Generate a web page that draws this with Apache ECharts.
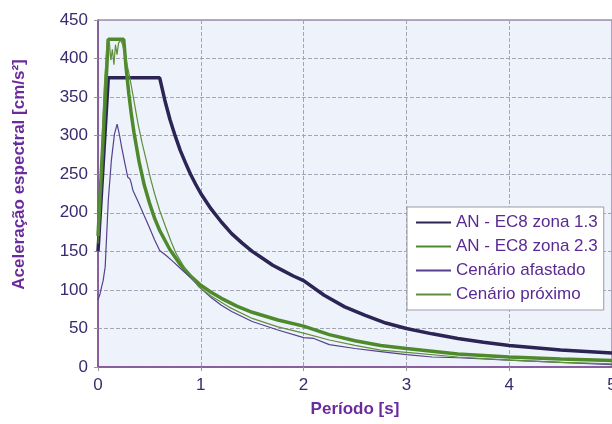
<!DOCTYPE html>
<html>
<head>
<meta charset="utf-8">
<script src="https://cdn.jsdelivr.net/npm/echarts@6/dist/echarts.min.js"></script>
<style>
html,body{margin:0;padding:0;background:#fff;}
#c{width:612px;height:424px;}
</style>
</head>
<body>
<div id="c"></div>
<script>
// ---- data ----
const seriesNames = ['AN - EC8 zona 1.3', 'AN - EC8 zona 2.3', 'Cenário afastado', 'Cenário próximo'];
const xTicks = [0, 1, 2, 3, 4, 5];
const yTicks = [0, 50, 100, 150, 200, 250, 300, 350, 400, 450];

const tZona13 = [0, 0.1, 0.6, 0.65, 0.7, 0.75, 0.8, 0.85, 0.9, 0.95, 1.0, 1.1, 1.2, 1.3, 1.4, 1.5, 1.6, 1.7, 1.8, 1.9, 2.0, 2.2, 2.4, 2.6, 2.8, 3.0, 3.25, 3.5, 3.75, 4.0, 4.25, 4.5, 4.75, 5.0];
const aZona13 = [150, 375, 375, 346, 321, 300, 281, 265, 250, 237, 225, 205, 188, 173, 161, 150, 141, 132, 125, 118, 112, 93, 78, 67, 57, 50, 43, 37, 32, 28, 25, 22, 20, 18];

const tZona23 = [0, 0.1, 0.25, 0.275, 0.3, 0.325, 0.35, 0.4, 0.45, 0.5, 0.55, 0.6, 0.7, 0.8, 0.9, 1.0, 1.1, 1.2, 1.35, 1.5, 1.75, 2.0, 2.25, 2.5, 2.75, 3.0, 3.5, 4.0, 4.5, 5.0];
const aZona23 = [170, 425, 425, 386, 354, 327, 304, 266, 236, 213, 193, 177, 152, 133, 118, 106, 97, 89, 79, 71, 61, 53, 42, 34, 28, 24, 17, 13, 10.5, 8.5];

const tAfastado = [0, 0.02, 0.035, 0.05, 0.07, 0.1, 0.13, 0.16, 0.186, 0.21, 0.23, 0.26, 0.29, 0.31, 0.32, 0.34, 0.385, 0.45, 0.5, 0.55, 0.6, 0.66, 0.72, 0.8, 0.9, 1.0, 1.1, 1.2, 1.3, 1.5, 1.75, 2.0, 2.1, 2.25, 2.5, 2.75, 3.0, 3.25, 3.5, 4.0, 4.5, 5.0];
const aAfastado = [87, 95, 104, 112, 130, 216, 268, 302, 315, 300, 285, 265, 246, 244, 240, 229, 216, 196, 181, 165, 151, 145, 138, 128, 116, 102, 90, 80, 72, 59, 48, 38, 37, 29, 24, 20, 16, 13, 12, 9, 6, 3];

const tProximo = [0, 0.03, 0.06, 0.09, 0.11, 0.125, 0.14, 0.155, 0.17, 0.185, 0.2, 0.22, 0.24, 0.27, 0.31, 0.35, 0.39, 0.43, 0.47, 0.51, 0.55, 0.6, 0.66, 0.71, 0.76, 0.85, 0.98, 1.1, 1.27, 1.5, 1.75, 2.0, 2.25, 2.5, 2.75, 3.0, 3.5, 4.0, 4.5, 5.0];
const aProximo = [160, 260, 360, 425, 422, 398, 412, 392, 418, 405, 420, 424, 418, 400, 375, 345, 315, 290, 268, 245, 225, 203, 181, 163, 147, 127, 104, 92, 78, 63, 52, 44, 35, 28, 22, 19, 13, 9, 6, 4];

// ---- chart ----
const pairs = (t, a) => t.map((x, i) => [x, a[i]]);
const FONT = '"Liberation Sans", Arial, sans-serif';
const tickColor = '#3a2a6e';
const titleColor = '#6a2c9c';
const frameColor = '#7b4a92';

const chart = echarts.init(document.getElementById('c'), null, {renderer: 'canvas'});
chart.setOption({
  animation: false,
  backgroundColor: '#ffffff',
  grid: {
    left: 98, top: 20, width: 514, height: 347,
    outerBoundsMode: 'none', containLabel: false,
    show: true, backgroundColor: '#eef2fa', borderColor: frameColor, borderWidth: 1
  },
  legend: {
    orient: 'vertical', left: 407, top: 207,
    padding: [7, 6, 7, 8],
    itemWidth: 35, itemHeight: 14, itemGap: 7,
    backgroundColor: '#ffffff', borderColor: '#9a9aa6', borderWidth: 1,
    itemStyle: {opacity: 0},
    textStyle: {fontFamily: FONT, fontSize: 17, color: '#5a2a92', lineHeight: 17},
    data: seriesNames
  },
  xAxis: {
    type: 'value', min: xTicks[0], max: xTicks[xTicks.length - 1], interval: 1,
    name: 'Período [s]', nameLocation: 'middle', nameGap: 34,
    nameTextStyle: {fontFamily: FONT, fontSize: 17, fontWeight: 'bold', color: titleColor},
    axisLine: {show: true, lineStyle: {color: frameColor, width: 1.5}},
    axisTick: {show: true, length: 4, lineStyle: {color: '#999'}},
    axisLabel: {fontFamily: FONT, fontSize: 17, color: tickColor, margin: 10, showMaxLabel: true},
    splitLine: {show: true, lineStyle: {color: '#a4a4b6', type: [4, 2], width: 1}}
  },
  yAxis: {
    type: 'value', min: yTicks[0], max: yTicks[yTicks.length - 1], interval: 50,
    name: 'Aceleração espectral [cm/s²]', nameLocation: 'middle', nameGap: 70,
    nameTextStyle: {fontFamily: FONT, fontSize: 17, fontWeight: 'bold', color: titleColor, padding: [0, 0, 0, 38]},
    axisLine: {show: true, lineStyle: {color: frameColor, width: 1.5}},
    axisTick: {show: true, length: 4, lineStyle: {color: '#999'}},
    axisLabel: {fontFamily: FONT, fontSize: 17, color: tickColor, margin: 10},
    splitLine: {show: true, lineStyle: {color: '#a4a4b6', type: [4, 2], width: 1}}
  },
  series: [
    {name: seriesNames[0], type: 'line', symbol: 'none', z: 2,
     data: pairs(tZona13, aZona13), lineStyle: {color: '#2b2455', width: 3.5}, itemStyle: {color: '#2b2455'}},
    {name: seriesNames[1], type: 'line', symbol: 'none', z: 3,
     data: pairs(tZona23, aZona23), lineStyle: {color: '#4e8a2c', width: 3.5}, itemStyle: {color: '#4e8a2c'}},
    {name: seriesNames[2], type: 'line', symbol: 'none', z: 4,
     data: pairs(tAfastado, aAfastado), lineStyle: {color: '#54408e', width: 1.2}, itemStyle: {color: '#54408e'}},
    {name: seriesNames[3], type: 'line', symbol: 'none', z: 5,
     data: pairs(tProximo, aProximo), lineStyle: {color: '#5f8f3a', width: 1.2}, itemStyle: {color: '#5f8f3a'}}
  ]
});
</script>
</body>
</html>
